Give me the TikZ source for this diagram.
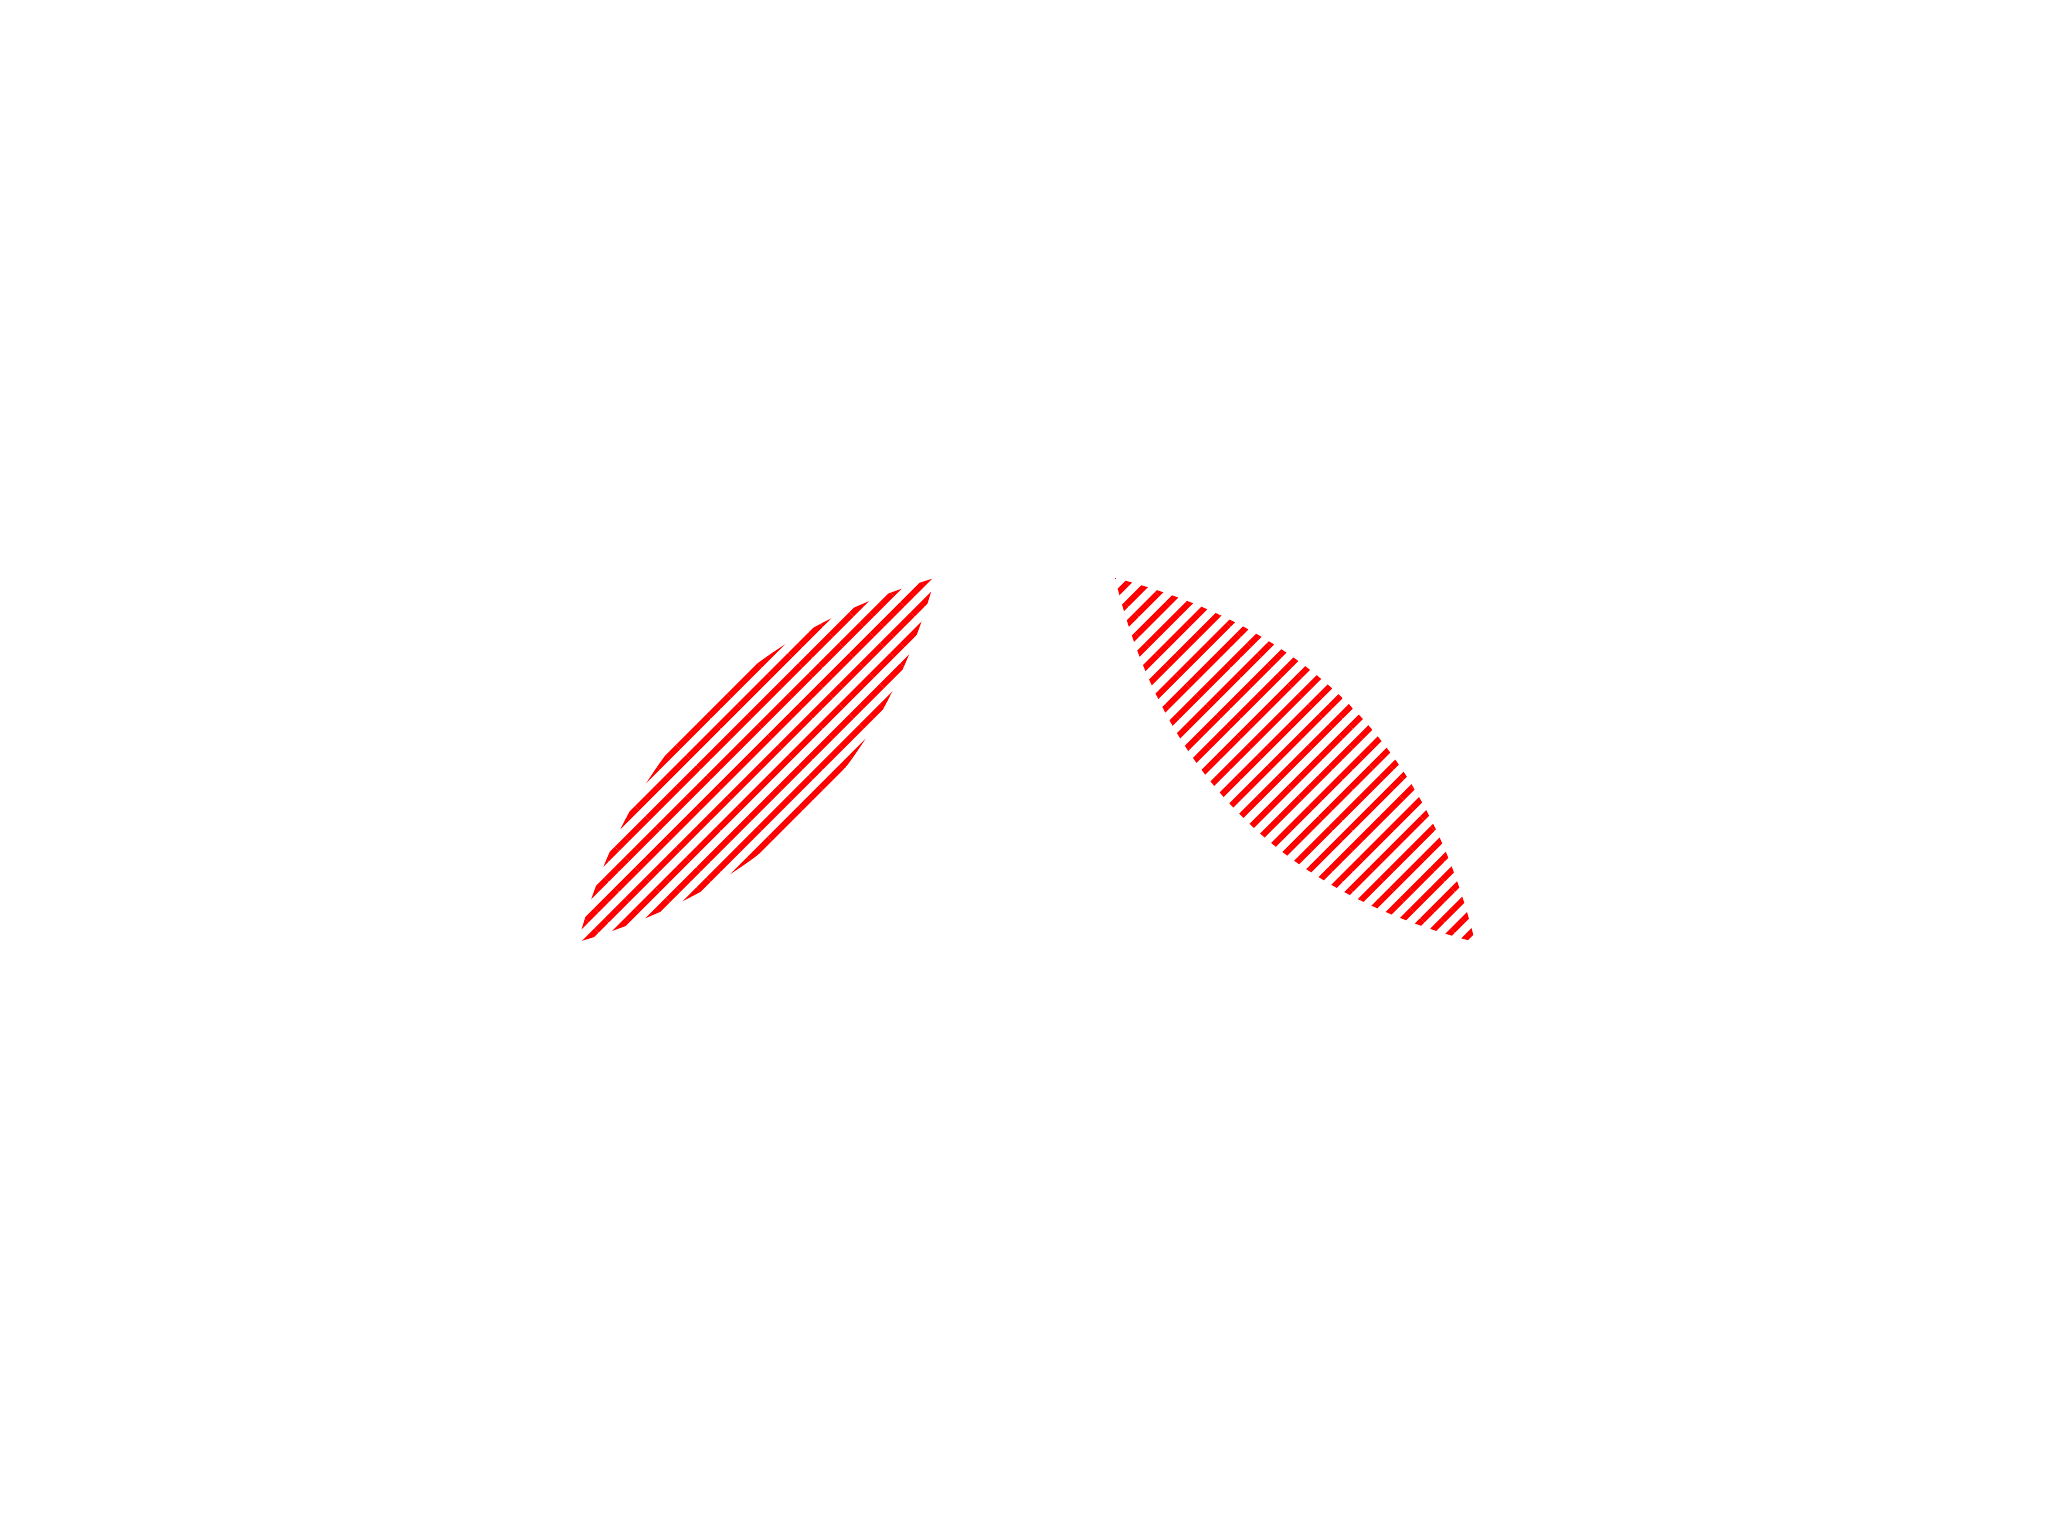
\documentclass[tikz,border=0pt]{standalone}
\usepackage{tikz}
\usetikzlibrary{patterns.meta}

\begin{document}
\begin{tikzpicture}[
    x=0.01cm, y=0.01cm,
    hatch/.style={
        pattern={Lines[angle=45, distance=4.1pt, line width=1.7pt]},
        pattern color=red
    }
]
    \path[use as bounding box] (0,0) rectangle (2051,1527);

    \coordinate (lefttip1) at (578,585);
    \coordinate (lefttip2) at (935,949);
    \coordinate (righttip1) at (1115,949);
    \coordinate (righttip2) at (1475,585);

    % left lens
    \fill[hatch] (lefttip1) to[bend left=29] (lefttip2)
        to[bend left=29] (lefttip1) -- cycle;

    % right lens
    \fill[hatch] (righttip1) to[bend left=31] (righttip2)
        to[bend left=31] (righttip1) -- cycle;

\end{tikzpicture}
\end{document}
